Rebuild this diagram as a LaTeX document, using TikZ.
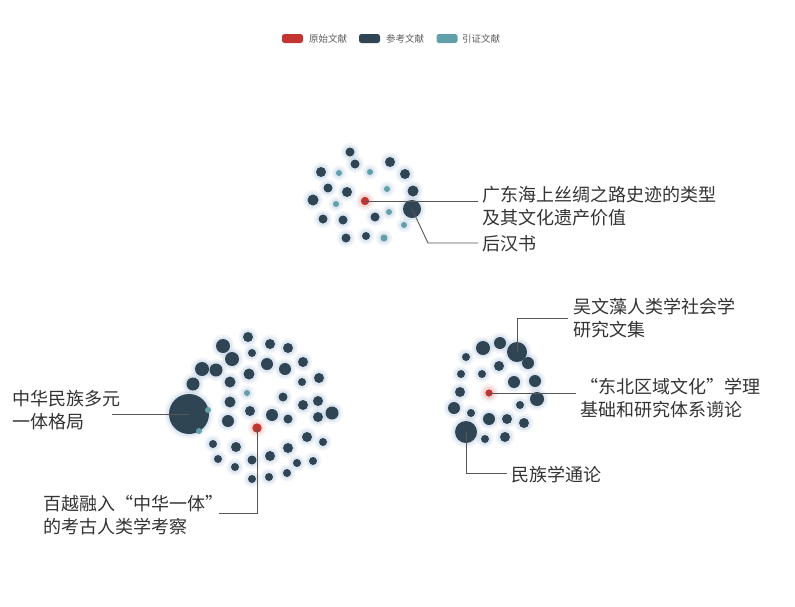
\documentclass[tikz,border=0pt]{standalone}
\usepackage{fontspec}
\newfontfamily\cjk{Noto Sans CJK SC}
\usetikzlibrary{backgrounds}
\definecolor{ecred}{HTML}{C23531}
\definecolor{ecdark}{HTML}{2F4554}
\definecolor{ecteal}{HTML}{61A0A8}
\definecolor{glowc}{HTML}{7FA3C8}
\definecolor{txt}{HTML}{333333}
\definecolor{leadc}{HTML}{555555}
\tikzset{
  dk/.style={circle,fill=ecdark,inner sep=0pt,outer sep=0pt},
  tl/.style={circle,fill=ecteal,inner sep=0pt,outer sep=0pt},
  rd/.style={circle,fill=ecred,inner sep=0pt,outer sep=0pt,minimum size=8pt},
  edge/.style={draw=ecred!40!gray,opacity=0.18,line width=0.5pt},
  lead/.style={draw=leadc,line width=0.9pt},
  lab/.style={font=\cjk\fontsize{18}{23}\selectfont,text=txt,anchor=west,align=left,inner sep=0pt},
  legtxt/.style={font=\cjk\fontsize{9.5}{11}\selectfont,text=txt!80,anchor=west,inner sep=0pt},
  legbox/.style={rounded corners=2.5pt,minimum width=21pt,minimum height=9pt,inner sep=0pt}
}
\newcommand{\glowat}[3]{%
  \fill[glowc,opacity=0.10] (#1,#2) circle ({#3+4.5});
  \fill[glowc,opacity=0.16] (#1,#2) circle ({#3+2.2});}
\newcommand{\redglow}[2]{%
  \fill[ecred,opacity=0.08] (#1,#2) circle (9);
  \fill[ecred,opacity=0.12] (#1,#2) circle (6.5);}
\begin{document}
\begin{tikzpicture}[x=1pt,y=-1pt]
\useasboundingbox (0,0) rectangle (795,606);
\fill[white] (0,0) rectangle (795,606);
% legend
\node[legbox,fill=ecred] (lg1) at (292.5,38.5) {};
\node[legtxt] (lt1) at (309,38.5) {原始文献};
\node[legbox,fill=ecdark] (lg2) at (369.5,38.5) {};
\node[legtxt] (lt2) at (386,38.5) {参考文献};
\node[legbox,fill=ecteal] (lg3) at (447,38.5) {};
\node[legtxt] (lt3) at (462,38.5) {引证文献};

% ---------- cluster 1 ----------
\foreach \x/\y/\r in {350/152/4.5,355/164/4.5,390/162/5,321/172/5,405/174/5,328/188/4.5,347/192/5,413/191/5.5,313/200/5.5,412/209/9,323/219/4.5,343/220/4.5,375/217/4.5,346/238/4.5,366/236/4,339/173/3,370/172/3,387/189/3,336/204/3,389/212/3,404/225/3,384/238/3.5}
  {\glowat{\x}{\y}{\r}}
\redglow{365}{201}
\node[rd] (r1) at (365,201) {};
\foreach \x/\y/\r [count=\i] in {350/152/4.5,355/164/4.5,390/162/5,321/172/5,405/174/5,328/188/4.5,347/192/5,413/191/5.5,313/200/5.5,412/209/9,323/219/4.5,343/220/4.5,375/217/4.5,346/238/4.5,366/236/4}
  {\node[dk,minimum size={2*\r pt}] (a\i) at (\x,\y) {};
   \begin{scope}[on background layer]\draw[edge] (r1) -- (a\i);\end{scope}}
\foreach \x/\y/\r [count=\i] in {339/173/3,370/172/3,387/189/3,336/204/3,389/212/3,404/225/3,384/238/3.5}
  {\node[tl,minimum size={2*\r pt}] (at\i) at (\x,\y) {};
   \begin{scope}[on background layer]\draw[edge] (r1) -- (at\i);\end{scope}}
\node[rd] (r1) at (365,201) {};

% ---------- cluster 2 ----------
\foreach \x/\y/\r in {189/414/20,248/337/5,223/346/7,270/344/5,288/348/5,232/359/7,252/353/4,202/369/7,216/370/6.5,267/364/6,285/369/6,303/362/5,249/374/5.5,230/382/5.5,193/384/6.5,302/382/4,319/378/5,283/397/4.5,230/402/5.5,303/405/5,318/401/5,250/411/5,272/415/6,288/419/4.5,318/417/5,332/413/6.5,228/421/6,307/437/5,323/442/4,213/444/4,236/447/5,288/448/5,218/459/4,252/460/4.5,270/456/5,297/463/4,313/461/4,235/467/4,252/479/4,269/477/4,287/473/4,247/393/3}
  {\glowat{\x}{\y}{\r}}
\redglow{257}{428}
\node[rd,minimum size=9pt] (r2) at (257,428) {};
\foreach \x/\y/\r [count=\i] in {189/414/20,248/337/5,223/346/7,270/344/5,288/348/5,232/359/7,252/353/4,202/369/7,216/370/6.5,267/364/6,285/369/6,303/362/5,249/374/5.5,230/382/5.5,193/384/6.5,302/382/4,319/378/5,283/397/4.5,230/402/5.5,303/405/5,318/401/5,250/411/5,272/415/6,288/419/4.5,318/417/5,332/413/6.5,228/421/6,307/437/5,323/442/4,213/444/4,236/447/5,288/448/5,218/459/4,252/460/4.5,270/456/5,297/463/4,313/461/4,235/467/4,252/479/4,269/477/4,287/473/4}
  {\node[dk,minimum size={2*\r pt}] (b\i) at (\x,\y) {};
   \begin{scope}[on background layer]\draw[edge] (r2) -- (b\i);\end{scope}}
\foreach \x/\y/\r [count=\i] in {247/393/3,208/410/3,199/431/3}
  {\node[tl,minimum size={2*\r pt}] (bt\i) at (\x,\y) {};
   \begin{scope}[on background layer]\draw[edge] (r2) -- (bt\i);\end{scope}}
\node[rd,minimum size=9pt] (r2) at (257,428) {};

% ---------- cluster 3 ----------
\foreach \x/\y/\r in {483/348/7,500/343/6,517/352/10,466/357/4,499/366/5,528/363/6,461/374/4,482/374/4,514/382/6,535/381/6,460/392/5,537/399/7,454/408/6,520/405/4,471/413/4,489/419/6,507/419/5,524/423/5,466/432/11,485/439/4,505/437/5}
  {\glowat{\x}{\y}{\r}}
\redglow{489}{393}
\node[rd,minimum size=7pt] (r3) at (489,393) {};
\foreach \x/\y/\r [count=\i] in {483/348/7,500/343/6,517/352/10,466/357/4,499/366/5,528/363/6,461/374/4,482/374/4,514/382/6,535/381/6,460/392/5,537/399/7,454/408/6,520/405/4,471/413/4,489/419/6,507/419/5,524/423/5,466/432/11,485/439/4,505/437/5}
  {\node[dk,minimum size={2*\r pt}] (c\i) at (\x,\y) {};
   \begin{scope}[on background layer]\draw[edge] (r3) -- (c\i);\end{scope}}
\node[rd,minimum size=7pt] (r3) at (489,393) {};

% ---------- labels ----------
\node[lab] (l1) at (482,206.5) {广东海上丝绸之路史迹的类型\\及其文化遗产价值};
\node[lab] (l2) at (482,244) {后汉书};
\node[lab] (l3) at (573,318) {吴文藻人类学社会学\\研究文集};
\node[lab] (l4) at (580,398.5) {“东北区域文化”学理\\基础和研究体系谫论};
\node[lab] (l5) at (511,475) {民族学通论};
\node[lab] (l6) at (12,410.5) {中华民族多元\\一体格局};
\node[lab] (l7) at (43,515.5) {百越融入“中华一体”\\的考古人类学考察};

\coordinate (e1) at (478,201);
\coordinate (k2) at (428,243);
\coordinate (e2) at (478,243);
\coordinate (k3) at (517,318);
\coordinate (e3) at (568,318);
\coordinate (e4) at (576,393);
\coordinate (k5) at (466,473);
\coordinate (e5) at (507,473);
\coordinate (e6) at (112,414);
\coordinate (k7) at (257,513);
\coordinate (e7) at (219,513);

\draw[lead] (r1.center) -- (e1);
\draw[lead] (a10.center) -- (k2) -- (e2);
\draw[lead] (c3.center) -- (k3) -- (e3);
\draw[lead] (r3.center) -- (e4);
\draw[lead] (c19.center) -- (k5) -- (e5);
\draw[lead] (e6) -- (b1.center);
\draw[lead] (r2.center) -- (k7) -- (e7);
\end{tikzpicture}
\end{document}
